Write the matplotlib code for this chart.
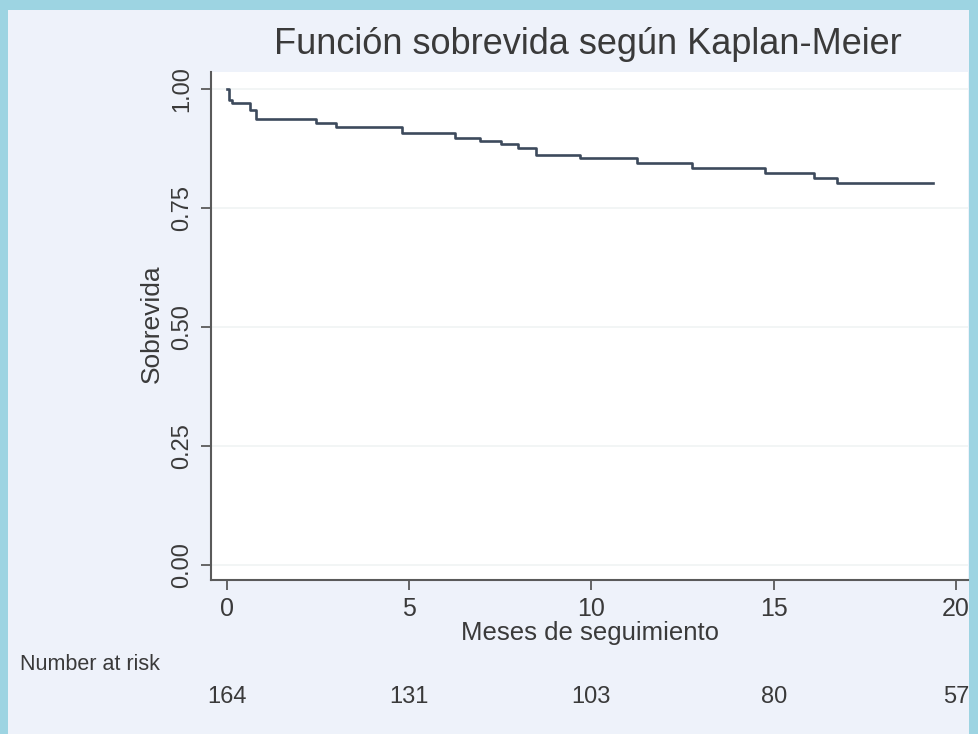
import matplotlib
matplotlib.use("Agg")
import matplotlib.pyplot as plt
from matplotlib.patches import Rectangle

# Kaplan-Meier survival estimate
times = [0, 0.05, 0.15, 0.65, 0.8, 2.44, 2.99, 4.81, 6.27, 6.96, 7.51, 8.0, 8.47,
         9.68, 11.25, 12.76, 14.77, 16.1, 16.73, 19.38]
surv = [1.0, 0.977, 0.97, 0.955, 0.938, 0.928, 0.921, 0.907, 0.898, 0.891, 0.884,
        0.875, 0.861, 0.854, 0.844, 0.834, 0.824, 0.814, 0.802, 0.802]

xticks = [0, 5, 10, 15, 20]
yticks = [0.00, 0.25, 0.50, 0.75, 1.00]
ytick_labels = ["0.00", "0.25", "0.50", "0.75", "1.00"]
risk_times = [0, 5, 10, 15, 20]
at_risk = [164, 131, 103, 80, 57]

title = "Función sobrevida según Kaplan-Meier"
xlabel = "Meses de seguimiento"
ylabel = "Sobrevida"
risk_label = "Number at risk"

FONT = ["Liberation Sans Narrow", "Liberation Sans", "DejaVu Sans"]
plt.rcParams["font.family"] = FONT

W, H = 979, 734
fig = plt.figure(figsize=(W / 100, H / 100), dpi=100)
fig.patch.set_facecolor("#9dd4e2")
fig.patches.append(Rectangle((8 / W, 0), (969 - 8) / W, (H - 10) / H,
                             transform=fig.transFigure, facecolor="#eef2fa",
                             edgecolor="none", zorder=-5))

def px(x, y):
    return x / W, 1 - y / H

left, right, top, bottom = 211, 968, 72, 580
ax = fig.add_axes([left / W, 1 - bottom / H, (right - left) / W, (bottom - top) / H])
ax.set_zorder(2)
ax.set_facecolor("white")

ax.step(times, surv, where="post", color="#3d4a5c", lw=1.9, zorder=3)

ax.set_xlim(-0.43, 20.33)
ax.set_ylim(-0.0315, 1.0357)
ax.set_xticks(xticks)
ax.set_yticks(yticks)
ax.set_yticklabels(ytick_labels, rotation=90, va="center")
for y in yticks:
    ax.axhline(y, color="#f0f3f3", lw=1.2, zorder=1)

for s in ["top", "right"]:
    ax.spines[s].set_visible(False)
for s in ["left", "bottom"]:
    ax.spines[s].set_color("#5a5a5a")
    ax.spines[s].set_linewidth(1.5)

tc = "#3a3a3a"
ax.tick_params(axis="both", colors="#5a5a5a", width=1.3, length=7, labelcolor=tc)
ax.tick_params(axis="x", labelsize=18, pad=5)
ax.tick_params(axis="y", labelsize=17, pad=6)

fig.text(*px(588, 45), title, ha="center", va="center", fontsize=26, color=tc)
fig.text(*px(590, 633), xlabel, ha="center", va="center", fontsize=18.5, color=tc)
fig.text(*px(152, 324), ylabel, ha="center", va="center", fontsize=19, color=tc,
         rotation=90)
fig.text(*px(20, 664), risk_label, ha="left", va="center", fontsize=15.5, color=tc)

for t, n in zip(risk_times, at_risk):
    xf = ax.transData.transform((t, 0))[0] / W
    fig.text(xf, 1 - 697 / H, str(n), ha="center", va="center", fontsize=17, color=tc)

fig.savefig("out.png", dpi=100, facecolor=fig.get_facecolor())
